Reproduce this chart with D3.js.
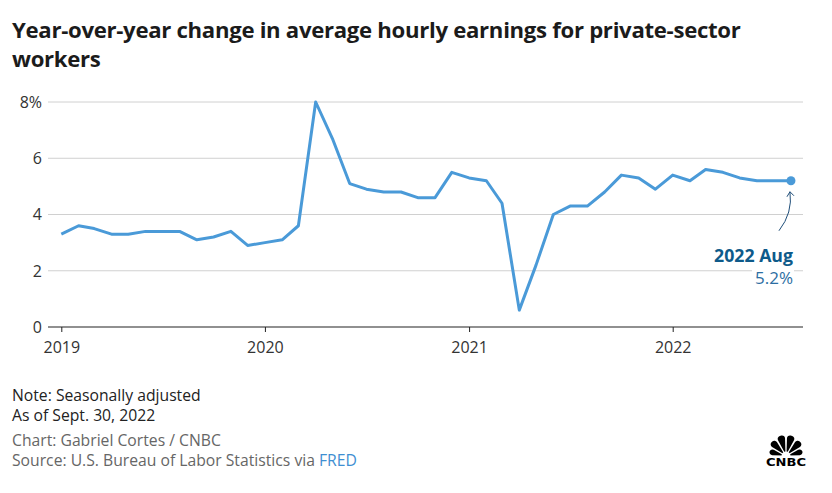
<!DOCTYPE html>
<html><head><meta charset="utf-8">
<script src="https://cdn.jsdelivr.net/npm/d3@7"></script>
<style>
body{margin:0;background:#fff;}
svg{display:block;font-family:"Open Sans",Lato,sans-serif;}
</style></head>
<body><svg id="c" width="832" height="493"></svg>
<script>
const months = [
 "2019-01","2019-02","2019-03","2019-04","2019-05","2019-06","2019-07","2019-08","2019-09","2019-10","2019-11","2019-12",
 "2020-01","2020-02","2020-03","2020-04","2020-05","2020-06","2020-07","2020-08","2020-09","2020-10","2020-11","2020-12",
 "2021-01","2021-02","2021-03","2021-04","2021-05","2021-06","2021-07","2021-08","2021-09","2021-10","2021-11","2021-12",
 "2022-01","2022-02","2022-03","2022-04","2022-05","2022-06","2022-07","2022-08"];
const values = [
 3.3,3.6,3.5,3.3,3.3,3.4,3.4,3.4,3.1,3.2,3.4,2.9,
 3.0,3.1,3.6,8.0,6.7,5.1,4.9,4.8,4.8,4.6,4.6,5.5,
 5.3,5.2,4.4,0.6,2.2,4.0,4.3,4.3,4.8,5.4,5.3,4.9,
 5.4,5.2,5.6,5.5,5.3,5.2,5.2,5.2];
const yTicks = [0,2,4,6,8];
const xTickLabels = ["2019","2020","2021","2022"];
const title = ["Year-over-year change in average hourly earnings for private-sector","workers"];
const annoLabel = "2022 Aug";
const annoValue = "5.2%";

const parse = d3.timeParse("%Y-%m");
const data = months.map((m,i)=>({date:parse(m), v:values[i]}));
const svg = d3.select("#c");

function fit(sel, target){
  const fs = parseFloat(sel.attr("font-size"));
  const w = sel.node().getComputedTextLength();
  if (w > 0) sel.attr("font-size", (fs*target/w).toFixed(2));
  return sel;
}

const x = d3.scaleTime().domain([parse("2019-01"), parse("2022-01")]).range([61.3, 672.7]);
const y = d3.scaleLinear().domain([0,8]).range([327,102]);
const left = 48, right = 803;

// title
const t1 = svg.append("text").attr("x",12).attr("y",38)
  .attr("font-size",21).attr("font-weight",700).attr("fill","#1b1b1b").attr("letter-spacing","-0.3").text(title[0]);
fit(t1, 728);
const tfs = t1.attr("font-size");
svg.append("text").attr("x",12).attr("y",67)
  .attr("font-size",tfs).attr("font-weight",700).attr("fill","#1b1b1b").attr("letter-spacing","-0.3").text(title[1]);

// grid
svg.append("g").selectAll("line").data(yTicks.filter(d=>d>0)).join("line")
  .attr("x1",left).attr("x2",right).attr("y1",d=>y(d)).attr("y2",d=>y(d))
  .attr("stroke","#d0d0d0").attr("stroke-width",1);

// y labels
svg.append("g").selectAll("text").data(yTicks).join("text")
  .attr("x",42).attr("y",d=>y(d)).attr("dy","0.36em").attr("text-anchor","end")
  .attr("font-size",16).attr("fill","#333")
  .text(d=>d===8? d+"%" : d);

// x axis
const xa = d3.axisBottom(x).tickValues(xTickLabels.map(s=>d3.timeParse("%Y")(s)))
  .tickFormat(d3.timeFormat("%Y")).tickSize(5).tickPadding(10);
const gx = svg.append("g").attr("transform",`translate(0,${y(0)})`).call(xa);
gx.select(".domain").remove();
gx.selectAll(".tick line").attr("stroke","#222");
gx.selectAll(".tick text").attr("font-size",16).attr("fill","#333").attr("font-family","'Open Sans',Lato,sans-serif");
svg.append("line").attr("x1",left).attr("x2",right).attr("y1",y(0)).attr("y2",y(0))
  .attr("stroke","#222").attr("stroke-width",1.2);

// line
const line = d3.line().x(d=>x(d.date)).y(d=>y(d.v));
svg.append("path").datum(data).attr("d",line)
  .attr("fill","none").attr("stroke","#4a9ad8").attr("stroke-width",3).attr("stroke-linejoin","round");

const last = data[data.length-1];
svg.append("circle").attr("cx",x(last.date)).attr("cy",y(last.v)).attr("r",4.5).attr("fill","#4a9ad8");

// annotation arrow
const ax = x(last.date), ay = y(last.v);
svg.append("path")
  .attr("d",`M${ax-12},${ay+50} Q${ax+2},${ay+32} ${ax-1},${ay+11}`)
  .attr("fill","none").attr("stroke","#1f4e79").attr("stroke-width",1);
svg.append("path")
  .attr("d",`M${ax-4},${ay+16} L${ax-1},${ay+11} L${ax+3},${ay+15}`)
  .attr("fill","none").attr("stroke","#1f4e79").attr("stroke-width",1);

// annotation text
const a1 = svg.append("text").attr("x",793).attr("y",262).attr("text-anchor","end")
  .attr("font-size",15).attr("font-weight",700).attr("fill","#0e5a8a").text(annoLabel);
fit(a1, 79);
svg.append("rect").attr("x",752).attr("y",269).attr("width",42).attr("height",4).attr("fill","#fff");
const a2 = svg.append("text").attr("x",793).attr("y",284).attr("text-anchor","end")
  .attr("font-size",15).attr("fill","#2c6ea2").text(annoValue);
fit(a2, 38);

// footer
const foot = svg.append("g");
const fl = [["Note: Seasonally adjusted",401,"#222"],["As of Sept. 30, 2022",421,"#222"],["Chart: Gabriel Cortes / CNBC",446,"#666"]];
fl.forEach(f=>foot.append("text").attr("x",12).attr("y",f[1]).attr("fill",f[2]).attr("font-size",14).text(f[0]));
const src = foot.append("text").attr("x",12).attr("y",466).attr("fill","#666").attr("font-size",14);
src.append("tspan").text("Source: U.S. Bureau of Labor Statistics via ");
src.append("tspan").attr("fill","#3f8fd2").text("FRED");
fit(src, 345);
const ffs = src.attr("font-size");
foot.selectAll("text").attr("font-size", ffs);

// CNBC logo (simplified peacock)
const logo = svg.append("g").attr("transform","translate(786,456)");
const arc = d3.arc().innerRadius(2).cornerRadius(3).padAngle(0.1);
const feathers = [[-90,-60,17],[-60,-30,20],[-30,0,21],[0,30,21],[30,60,20],[60,90,17]];
feathers.forEach(f=>{
  logo.append("path").attr("fill","#000")
    .attr("d",arc({startAngle:f[0]*Math.PI/180,endAngle:f[1]*Math.PI/180,outerRadius:f[2]}));
});
logo.append("circle").attr("r",4.5).attr("fill","#fff");
const lt = logo.append("text").attr("x",0).attr("y",9.5).attr("text-anchor","middle")
  .attr("font-size",11).attr("font-weight",900).attr("font-family","'DejaVu Sans',sans-serif")
  .attr("fill","#000").text("CNBC");
lt.attr("textLength",40).attr("lengthAdjust","spacingAndGlyphs");
</script></body></html>
